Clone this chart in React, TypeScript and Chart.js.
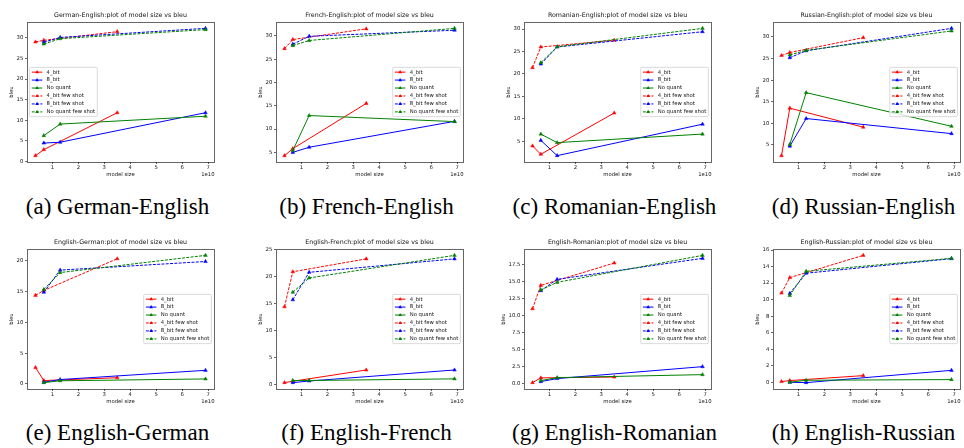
import React, { useEffect, useRef } from "react";
import { Chart, registerables } from "chart.js";

Chart.register(...registerables);

// ---------- data ----------
const SERIES = ["4_bit", "8_bit", "No quant", "4_bit few shot", "8_bit few shot", "No quant few shot"];
const SERIES_COLOR = ["#ff0000", "#0000ff", "#008000", "#ff0000", "#0000ff", "#008000"];
const SERIES_DASHED = [false, false, false, true, true, true];

// model size (parameters) of each point
const SIZE_4BIT = [3.5e9, 6.7e9, 3.5e10];
const SIZE_8BIT = [6.7e9, 1.3e10, 6.9e10];
const SIZE_NOQUANT = [6.7e9, 1.3e10, 6.9e10];
const SERIES_SIZES = [SIZE_4BIT, SIZE_8BIT, SIZE_NOQUANT, SIZE_4BIT, SIZE_8BIT, SIZE_NOQUANT];

const X_TICKS = [1e10, 2e10, 3e10, 4e10, 5e10, 6e10, 7e10];

// BLEU values, one row per series (SERIES order)
const BLEU_DE_EN = [
  [1.45, 2.9, 11.85],
  [4.5, 4.7, 11.85],
  [6.3, 9.1, 11.0],
  [29.0, 29.4, 31.5],
  [28.95, 30.1, 32.3],
  [28.5, 29.8, 32.0],
];
const BLEU_FR_EN = [
  [4.3, 5.8, 15.5],
  [5.0, 6.1, 11.65],
  [5.4, 12.9, 11.6],
  [27.25, 29.2, 31.5],
  [28.2, 29.9, 31.2],
  [27.9, 29.0, 31.6],
];
const BLEU_RO_EN = [
  [3.96, 2.1, 11.3],
  [5.2, 1.8, 8.8],
  [6.6, 4.7, 6.6],
  [21.4, 26.0, 27.5],
  [22.2, 26.0, 29.4],
  [22.5, 26.05, 30.15],
];
const BLEU_RU_EN = [
  [2.5, 13.5, 9.1],
  [4.7, 11.1, 7.6],
  [5.1, 17.1, 9.3],
  [25.7, 26.4, 29.85],
  [25.2, 26.8, 32.0],
  [25.85, 26.9, 31.4],
];
const BLEU_EN_DE = [
  [2.65, 0.54, 1.0],
  [0.27, 0.7, 2.2],
  [0.2, 0.5, 0.8],
  [14.4, 15.2, 20.35],
  [14.9, 18.5, 19.9],
  [15.35, 18.1, 20.9],
];
const BLEU_EN_FR = [
  [0.3, 0.55, 2.65],
  [0.3, 0.6, 2.65],
  [0.7, 0.7, 1.0],
  [14.4, 20.9, 23.3],
  [15.7, 20.8, 23.3],
  [17.1, 19.75, 23.95],
];
const BLEU_EN_RO = [
  [0.1, 0.8, 0.93],
  [0.25, 0.7, 2.46],
  [0.4, 0.84, 1.28],
  [11.0, 14.45, 17.75],
  [13.67, 15.34, 18.44],
  [13.77, 14.9, 18.88],
];
const BLEU_EN_RU = [
  [0.08, 0.2, 0.8],
  [0.0, -0.05, 1.44],
  [0.0, 0.24, 0.32],
  [10.8, 12.67, 15.36],
  [10.75, 13.2, 14.96],
  [10.5, 13.43, 15.0],
];

const Y_TICKS_30 = [0, 5, 10, 15, 20, 25, 30];
const Y_TICKS_20 = [0, 5, 10, 15, 20];
const Y_TICKS_25 = [0, 5, 10, 15, 20, 25];
const Y_TICKS_17_5 = [0, 2.5, 5, 7.5, 10, 12.5, 15, 17.5];
const Y_TICKS_16 = [0, 2, 4, 6, 8, 10, 12, 14, 16];

const TITLES = [
  "German-English:plot of model size vs bleu",
  "French-English:plot of model size vs bleu",
  "Romanian-English:plot of model size vs bleu",
  "Russian-English:plot of model size vs bleu",
  "English-German:plot of model size vs bleu",
  "English-French:plot of model size vs bleu",
  "English-Romanian:plot of model size vs bleu",
  "English-Russian:plot of model size vs bleu",
];
const CAPTIONS = [
  "(a) German-English",
  "(b) French-English",
  "(c) Romanian-English",
  "(d) Russian-English",
  "(e) English-German",
  "(f) English-French",
  "(g) English-Romanian",
  "(h) English-Russian",
];
const PANEL_BLEU = [BLEU_DE_EN, BLEU_FR_EN, BLEU_RO_EN, BLEU_RU_EN, BLEU_EN_DE, BLEU_EN_FR, BLEU_EN_RO, BLEU_EN_RU];
const PANEL_YTICKS = [Y_TICKS_30, Y_TICKS_30, Y_TICKS_30, Y_TICKS_30, Y_TICKS_20, Y_TICKS_25, Y_TICKS_17_5, Y_TICKS_16];
const PANEL_DECIMALS = [0, 0, 0, 0, 0, 0, 1, 0];
const PANEL_LEGEND_LEFT = [true, false, false, false, false, false, false, false];

// ---------- layout ----------
const FONT = '"DejaVu Sans", sans-serif';
const FS = 5.3;
const TITLE_FS = 6.3;
const CANVAS_W = 246;
const CANVAS_H = 184;
const AX_LEFT = 30;
const AX_TOP = 22;
const AX_W = 187;
const AX_H = 140;
const COL_X = [-3, 246, 494, 743];
const ROW_Y = [0, 227];
const CAPTION_Y = [207, 433];
const TICK_LEN = 2;
const AXIS_COLOR = "rgba(0,0,0,0.6)";
const TEXT_COLOR = "#111";
const LINE_W = 1;
const MARKER_R = 2.1;
const DASH = [3, 1.3];

function limits(vals: number[]) {
  const lo = Math.min(...vals);
  const hi = Math.max(...vals);
  const m = (hi - lo) * 0.05;
  return [lo - m, hi + m];
}

function makeDecor(idx: number) {
  return {
    id: "decor" + idx,
    afterDraw(chart: any) {
      const ctx = chart.ctx as CanvasRenderingContext2D;
      const a = chart.chartArea;
      const yScale = chart.scales.y;
      ctx.save();
      // spines
      ctx.strokeStyle = AXIS_COLOR;
      ctx.lineWidth = 1;
      ctx.strokeRect(a.left + 0.5, a.top + 0.5, a.right - a.left, a.bottom - a.top);

      ctx.fillStyle = TEXT_COLOR;
      // title
      ctx.font = `${TITLE_FS}px ${FONT}`;
      ctx.textAlign = "center";
      ctx.textBaseline = "alphabetic";
      ctx.fillText(TITLES[idx], (a.left + a.right) / 2, a.top - 4.6);

      // x label + offset text
      ctx.font = `${FS}px ${FONT}`;
      ctx.textBaseline = "middle";
      ctx.fillText("model size", (a.left + a.right) / 2, a.bottom + 12.3);
      ctx.textAlign = "right";
      ctx.fillText("1e10", a.right + 0.5, a.bottom + 12.3);

      // y label
      const dec = PANEL_DECIMALS[idx];
      let maxW = 0;
      for (const v of PANEL_YTICKS[idx]) {
        if (v < yScale.min || v > yScale.max) continue;
        maxW = Math.max(maxW, ctx.measureText(v.toFixed(dec)).width);
      }
      const right = a.left - TICK_LEN - 1.7 - maxW - 2.1;
      ctx.save();
      ctx.translate(right, (a.top + a.bottom) / 2);
      ctx.rotate(-Math.PI / 2);
      ctx.textAlign = "center";
      ctx.textBaseline = "bottom";
      ctx.fillText("bleu", 0, 0);
      ctx.restore();

      // legend
      ctx.font = `${FS}px ${FONT}`;
      let tw = 0;
      for (const s of SERIES) tw = Math.max(tw, ctx.measureText(s).width);
      const pad = 0.4 * FS;
      const hl = 2 * FS;
      const htp = 0.8 * FS;
      const pitch = 1.5 * FS;
      const bw = pad + hl + htp + tw + pad;
      const bh = 2 * pad + SERIES.length * FS + (SERIES.length - 1) * 0.5 * FS;
      const bx = PANEL_LEGEND_LEFT[idx] ? a.left + 0.5 * FS : a.right - 0.5 * FS - bw;
      const by = (a.top + a.bottom) / 2 - bh / 2;
      ctx.beginPath();
      const r = 1.2;
      ctx.moveTo(bx + r, by);
      ctx.lineTo(bx + bw - r, by);
      ctx.quadraticCurveTo(bx + bw, by, bx + bw, by + r);
      ctx.lineTo(bx + bw, by + bh - r);
      ctx.quadraticCurveTo(bx + bw, by + bh, bx + bw - r, by + bh);
      ctx.lineTo(bx + r, by + bh);
      ctx.quadraticCurveTo(bx, by + bh, bx, by + bh - r);
      ctx.lineTo(bx, by + r);
      ctx.quadraticCurveTo(bx, by, bx + r, by);
      ctx.closePath();
      ctx.fillStyle = "rgba(255,255,255,0.8)";
      ctx.fill();
      ctx.strokeStyle = "rgba(204,204,204,0.9)";
      ctx.lineWidth = 0.8;
      ctx.stroke();

      SERIES.forEach((name, i) => {
        const cy = by + pad + FS / 2 + i * pitch;
        const x0 = bx + pad;
        ctx.strokeStyle = SERIES_COLOR[i];
        ctx.lineWidth = LINE_W;
        ctx.setLineDash(SERIES_DASHED[i] ? DASH : []);
        ctx.beginPath();
        ctx.moveTo(x0, cy);
        ctx.lineTo(x0 + hl, cy);
        ctx.stroke();
        ctx.setLineDash([]);
        const mx = x0 + hl / 2;
        const rr = MARKER_R;
        ctx.beginPath();
        ctx.moveTo(mx, cy - rr);
        ctx.lineTo(mx + rr * 0.866, cy + rr * 0.5);
        ctx.lineTo(mx - rr * 0.866, cy + rr * 0.5);
        ctx.closePath();
        ctx.fillStyle = SERIES_COLOR[i];
        ctx.fill();
        ctx.fillStyle = TEXT_COLOR;
        ctx.textAlign = "left";
        ctx.textBaseline = "middle";
        ctx.fillText(name, x0 + hl + htp, cy);
      });
      ctx.restore();
    },
  };
}

function Panel({ idx }: { idx: number }) {
  const ref = useRef<HTMLCanvasElement | null>(null);
  useEffect(() => {
    if (!ref.current) return;
    const bleu = PANEL_BLEU[idx];
    const allX = SERIES_SIZES.flat();
    const allY = bleu.flat();
    const [xmin, xmax] = limits(allX);
    const [ymin, ymax] = limits(allY);
    const yTicks = PANEL_YTICKS[idx];
    const dec = PANEL_DECIMALS[idx];
    const tickFont = { family: FONT, size: FS };
    const datasets = SERIES.map((name, i) => ({
      label: name,
      data: SERIES_SIZES[i].map((x, j) => ({ x, y: bleu[i][j] })),
      borderColor: SERIES_COLOR[i],
      backgroundColor: SERIES_COLOR[i],
      borderWidth: LINE_W,
      borderDash: SERIES_DASHED[i] ? DASH : [],
      pointStyle: "triangle",
      pointRadius: MARKER_R,
      pointBorderWidth: 0.5,
      pointBackgroundColor: SERIES_COLOR[i],
      pointBorderColor: SERIES_COLOR[i],
      tension: 0,
      fill: false,
      order: -i,
    }));
    const chart = new Chart(ref.current, {
      type: "line",
      data: { datasets } as any,
      plugins: [makeDecor(idx)],
      options: {
        animation: false,
        responsive: false,
        devicePixelRatio: 1,
        events: [],
        layout: { padding: { left: 0, top: AX_TOP, right: CANVAS_W - AX_LEFT - AX_W, bottom: 0 } },
        plugins: { legend: { display: false }, title: { display: false }, tooltip: { enabled: false } },
        scales: {
          x: {
            type: "linear",
            min: xmin,
            max: xmax,
            afterFit: (s: any) => {
              s.height = CANVAS_H - AX_TOP - AX_H;
            },
            afterBuildTicks: (s: any) => {
              s.ticks = X_TICKS.map((v) => ({ value: v }));
            },
            ticks: {
              autoSkip: false,
              maxRotation: 0,
              padding: 0.5,
              font: tickFont,
              color: TEXT_COLOR,
              callback: (v: any) => String(Math.round(Number(v) / 1e10)),
            },
            grid: { display: true, drawOnChartArea: false, drawTicks: true, tickLength: TICK_LEN, color: AXIS_COLOR, lineWidth: 1 },
            border: { display: false },
          },
          y: {
            type: "linear",
            min: ymin,
            max: ymax,
            afterFit: (s: any) => {
              s.width = AX_LEFT;
            },
            afterBuildTicks: (s: any) => {
              s.ticks = yTicks.filter((v) => v >= ymin && v <= ymax).map((v) => ({ value: v }));
            },
            ticks: {
              autoSkip: false,
              padding: 1.7,
              font: tickFont,
              color: TEXT_COLOR,
              callback: (v: any) => Number(v).toFixed(dec),
            },
            grid: { display: true, drawOnChartArea: false, drawTicks: true, tickLength: TICK_LEN, color: AXIS_COLOR, lineWidth: 1 },
            border: { display: false },
          },
        },
      } as any,
    });
    return () => chart.destroy();
  }, [idx]);
  const col = idx % 4;
  const row = Math.floor(idx / 4);
  return (
    <canvas
      ref={ref}
      width={CANVAS_W}
      height={CANVAS_H}
      style={{ position: "absolute", left: COL_X[col], top: ROW_Y[row], width: CANVAS_W, height: CANVAS_H }}
    />
  );
}

export default function App() {
  return (
    <div style={{ position: "absolute", left: 0, top: 0, width: 964, height: 448, background: "#fff", overflow: "hidden" }}>
      {TITLES.map((_, i) => (
        <Panel key={i} idx={i} />
      ))}
      {CAPTIONS.map((c, i) => {
        const col = i % 4;
        const row = Math.floor(i / 4);
        const cx = COL_X[col] + AX_LEFT + AX_W / 2 - 3;
        return (
          <div
            key={"c" + i}
            style={{
              position: "absolute",
              left: cx - 150,
              width: 300,
              top: CAPTION_Y[row] - 14,
              height: 28,
              lineHeight: "28px",
              textAlign: "center",
              fontFamily: '"Liberation Serif", "Times New Roman", serif',
              fontSize: 23,
              color: "#000",
              whiteSpace: "nowrap",
            }}
          >
            {c}
          </div>
        );
      })}
    </div>
  );
}
